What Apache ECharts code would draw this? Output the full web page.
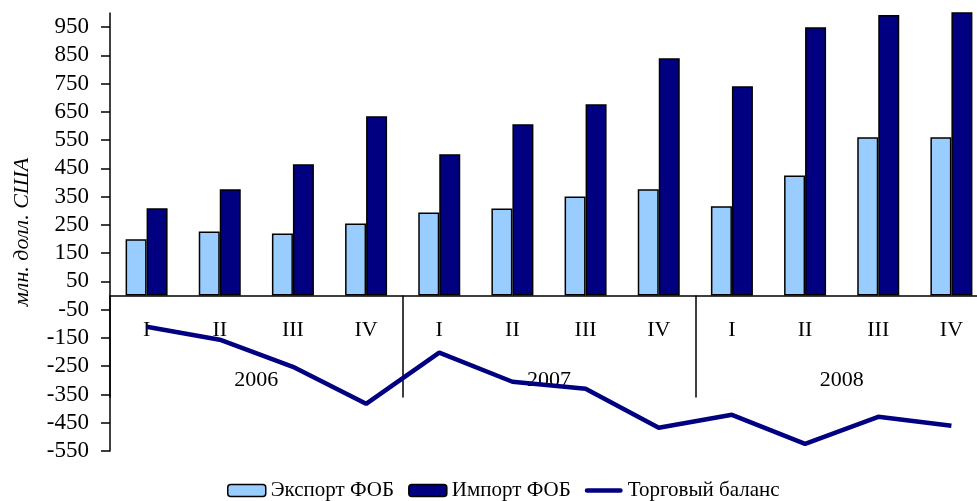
<!DOCTYPE html>
<html>
<head>
<meta charset="utf-8">
<script src="https://cdn.jsdelivr.net/npm/echarts@6/dist/echarts.min.js"></script>
<style>
html,body{margin:0;padding:0;background:#fff;}
#chart{width:977px;height:501px;}
</style>
</head>
<body>
<div id="chart"></div>
<script>
var quarters = ['I','II','III','IV','I','II','III','IV','I','II','III','IV'];
var years = ['2006','2007','2008'];
var exportFob = [199, 227, 220, 255, 294, 308, 351, 376, 316, 425, 560, 560];
var importFob = [309, 376, 465, 635, 500, 606, 677, 840, 741, 950, 993, 1010];
var tradeBalance = [-110, -156, -252, -383, -202, -305, -330, -468, -422, -525, -429, -461];
var yTicks = [-550,-450,-350,-250,-150,-50,50,150,250,350,450,550,650,750,850,950];
var seriesNames = ['Экспорт ФОБ','Импорт ФОБ','Торговый баланс'];
var yName = 'млн. долл. США';

var font = 'Liberation Serif';
var gridTop = 13, gridBottom = 50, H = 501, yMin = -550, yMax = 1000;
var plotH = H - gridTop - gridBottom;
// distance from the bottom of the grid up to the zero line
var zeroOffset = -(plotH * (0 - yMin) / (yMax - yMin));

var chart = echarts.init(document.getElementById('chart'));
chart.setOption({
  animation: false,
  backgroundColor: '#fff',
  textStyle: {fontFamily: font},
  grid: {left: 110, right: -11, top: gridTop, bottom: gridBottom, containLabel: false, outerBoundsMode: 'none'},
  legend: {
    left: 222, top: 475,
    itemWidth: 38, itemHeight: 12, itemGap: 14,
    textStyle: {fontFamily: font, fontSize: 21, color: '#000'},
    data: [
      {name: seriesNames[0], itemStyle: {borderColor: '#000', borderWidth: 1.5}},
      {name: seriesNames[1], itemStyle: {borderColor: '#000', borderWidth: 1.5}},
      {name: seriesNames[2], icon: 'path://M2,0 L38,0 A2.5,2.5 0 0 1 38,5 L2,5 A2.5,2.5 0 0 1 2,0 Z', itemStyle: {color: '#000080', borderWidth: 0}}
    ]
  },
  xAxis: [
    {
      type: 'category', data: quarters, position: 'bottom', offset: zeroOffset,
      axisLine: {onZero: false, lineStyle: {color: '#000', width: 1.5}},
      axisTick: {show: false},
      axisLabel: {color: '#000', fontFamily: font, fontSize: 22, margin: 24, interval: 0},
      splitLine: {show: false}
    },
    {
      type: 'category', data: years, position: 'bottom', offset: zeroOffset,
      axisLine: {show: false, onZero: false},
      axisTick: {show: true, length: 102, interval: 0, lineStyle: {color: '#000', width: 1.5}},
      axisLabel: {color: '#000', fontFamily: font, fontSize: 22, margin: 74, interval: 0},
      splitLine: {show: false}
    }
  ],
  yAxis: [
    {
      type: 'value', min: yMin, max: yMax,
      name: yName, nameLocation: 'middle', nameGap: 77,
      nameTextStyle: {fontFamily: font, fontStyle: 'italic', fontSize: 22, color: '#000'},
      axisLine: {show: true, lineStyle: {color: '#000', width: 1.5}},
      axisTick: {show: true, length: 9, customValues: yTicks, lineStyle: {color: '#000', width: 1.5}},
      axisLabel: {color: '#000', fontFamily: font, fontSize: 23, margin: 21, customValues: yTicks},
      splitLine: {show: false}
    }
  ],
  series: [
    {
      name: seriesNames[0], type: 'bar', data: exportFob,
      barWidth: 21, barGap: '0%',
      itemStyle: {color: '#99CCFF', borderColor: '#000', borderWidth: 1.5}
    },
    {
      name: seriesNames[1], type: 'bar', data: importFob,
      barWidth: 21, barGap: '0%',
      itemStyle: {color: '#000080', borderColor: '#000', borderWidth: 1.5}
    },
    {
      name: seriesNames[2], type: 'line', data: tradeBalance,
      symbol: 'none', z: 5,
      lineStyle: {color: '#000080', width: 4.5},
      itemStyle: {color: '#000080'}
    }
  ]
});
</script>
</body>
</html>
